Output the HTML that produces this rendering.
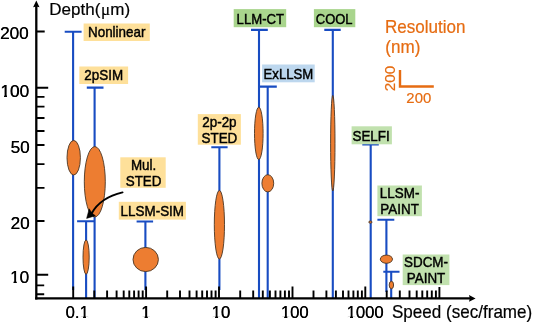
<!DOCTYPE html><html><head><meta charset="utf-8"><title>Depth vs Speed</title>
<style>html,body{margin:0;padding:0;background:#fff}svg{display:block}text{font-family:"Liberation Sans",Arial,Helvetica,sans-serif}</style></head><body>
<svg width="533" height="322" viewBox="0 0 533 322">
<rect width="533" height="322" fill="#fff"/>
<path d="M64.7 31.7H81.6M73.1 31.7V290" stroke="#184CC2" stroke-width="2.1" fill="none"/>
<path d="M86.8 87.6H103.5M94.6 87.6V298" stroke="#184CC2" stroke-width="2.1" fill="none"/>
<path d="M77.1 221.2H94.6M86.1 221.2V298" stroke="#184CC2" stroke-width="2.1" fill="none"/>
<path d="M136.6 221.5H153.1M145.4 221.5V290" stroke="#184CC2" stroke-width="2.1" fill="none"/>
<path d="M211.3 147.3H227.6M219.4 147.3V290" stroke="#184CC2" stroke-width="2.1" fill="none"/>
<path d="M251 29.9H267.8M259.0 29.9V298" stroke="#184CC2" stroke-width="2.1" fill="none"/>
<path d="M259 86.6H276.8M267.7 86.6V298" stroke="#184CC2" stroke-width="2.1" fill="none"/>
<path d="M324.3 29.9H340.7M332.8 29.9V298" stroke="#184CC2" stroke-width="2.1" fill="none"/>
<path d="M362.3 144.5H378.8M370.7 144.5V298" stroke="#184CC2" stroke-width="2.1" fill="none"/>
<path d="M377.4 219.7H394.3M386.4 219.7V292" stroke="#184CC2" stroke-width="2.1" fill="none"/>
<path d="M383.3 271.8H399.5M391.2 271.8V298" stroke="#184CC2" stroke-width="2.1" fill="none"/>
<ellipse cx="73.7" cy="157.7" rx="6.7" ry="17.3" fill="#ED7D31" stroke="#4a3624" stroke-width="0.9"/>
<ellipse cx="94.8" cy="181.8" rx="10.5" ry="35.2" fill="#ED7D31" stroke="#4a3624" stroke-width="0.9"/>
<ellipse cx="86.1" cy="257.1" rx="3.1" ry="17.2" fill="#ED7D31" stroke="#4a3624" stroke-width="0.9"/>
<ellipse cx="145.7" cy="259.5" rx="12.7" ry="12.1" fill="#ED7D31" stroke="#4a3624" stroke-width="0.9"/>
<ellipse cx="219.4" cy="224.7" rx="5.1" ry="34.3" fill="#ED7D31" stroke="#4a3624" stroke-width="0.9"/>
<ellipse cx="258.8" cy="133.4" rx="4.3" ry="26.2" fill="#ED7D31" stroke="#4a3624" stroke-width="0.9"/>
<ellipse cx="267.8" cy="183.3" rx="5.9" ry="8.6" fill="#ED7D31" stroke="#4a3624" stroke-width="0.9"/>
<ellipse cx="332.8" cy="143.2" rx="2.2" ry="47.8" fill="#ED7D31" stroke="#4a3624" stroke-width="0.9"/>
<ellipse cx="370.4" cy="222.1" rx="1.6" ry="1.1" fill="#ED7D31" stroke="#4a3624" stroke-width="0.9"/>
<ellipse cx="386.4" cy="259.2" rx="6.1" ry="4.1" fill="#ED7D31" stroke="#4a3624" stroke-width="0.9"/>
<ellipse cx="391.4" cy="285.0" rx="2.2" ry="3.7" fill="#ED7D31" stroke="#4a3624" stroke-width="0.9"/>
<path d="M36.3 5V299.59999999999997" stroke="#000" stroke-width="2.3" fill="none"/>
<path d="M35.15 298.4H471" stroke="#000" stroke-width="2.4" fill="none"/>
<path d="M36.3 0.6L39.5 7.2L36.3 6.6L33.099999999999994 7.2Z" fill="#000"/>
<path d="M475.6 298.4L469 295.09999999999997L469.8 298.4L469 301.7Z" fill="#000"/>
<path d="M36.3 31.5H44.7M36.3 87.8H48.2M36.3 96.9H44.5M36.3 106.6H44.5M36.3 118.0H44.5M36.3 131H44.5M36.3 145H44.5M36.3 164.1H44.5M36.3 187.9H44.5M36.3 221H44.5M36.3 274.8H48.2M36.3 285.4H44.2M36.3 294.3H44.2" stroke="#000" stroke-width="1.9" fill="none"/>
<path d="M73.2 298.4V286.6M94.3 298.4V290.5M107.1 298.4V290.5M116.6 298.4V290.5M123.7 298.4V290.5M129.3 298.4V290.5M134.1 298.4V290.5M138.6 298.4V290.5M142.7 298.4V290.5M146.1 298.4V286.6M167.2 298.4V290.5M180.0 298.4V290.5M189.5 298.4V290.5M196.6 298.4V290.5M202.2 298.4V290.5M207.0 298.4V290.5M211.5 298.4V290.5M215.6 298.4V290.5M219.0 298.4V286.6M240.2 298.4V290.5M253.2 298.4V290.5M262.8 298.4V290.5M269.9 298.4V290.5M275.5 298.4V290.5M280.4 298.4V290.5M284.9 298.4V290.5M289.0 298.4V290.5M292.5 298.4V286.6M313.5 298.4V290.5M326.4 298.4V290.5M335.9 298.4V290.5M343.0 298.4V290.5M348.5 298.4V290.5M353.4 298.4V290.5M357.8 298.4V290.5M361.9 298.4V290.5M365.3 298.4V286.6M386.7 298.4V290.5M399.8 298.4V290.5M409.5 298.4V290.5M416.7 298.4V290.5M422.3 298.4V290.5M427.2 298.4V290.5M431.8 298.4V290.5M435.9 298.4V290.5M439.4 298.4V286.9" stroke="#000" stroke-width="1.9" fill="none"/>
<g>
<text x="28.60" y="39.4" font-size="17.2" text-anchor="end" fill="#000">200</text>
<text x="28.95" y="39.4" font-size="17.2" text-anchor="end" fill="#000">200</text>
</g>
<clipPath id="c1"><path clip-rule="evenodd" d="M-2.70 77.00H32.00V103.00H-2.70ZM0.97 94.72H4.13V98.00H0.97ZM7.00 94.72H10.06V98.00H7.00Z"/></clipPath>
<g clip-path="url(#c1)">
<text x="29.00" y="97.0" font-size="17.2" text-anchor="end" fill="#000">100</text>
<text x="29.35" y="97.0" font-size="17.2" text-anchor="end" fill="#000">100</text>
</g>
<g>
<text x="29.50" y="153.4" font-size="17.2" text-anchor="end" fill="#000">50</text>
<text x="29.85" y="153.4" font-size="17.2" text-anchor="end" fill="#000">50</text>
</g>
<g>
<text x="29.50" y="229.4" font-size="17.2" text-anchor="end" fill="#000">20</text>
<text x="29.85" y="229.4" font-size="17.2" text-anchor="end" fill="#000">20</text>
</g>
<clipPath id="c2"><path clip-rule="evenodd" d="M6.87 263.40H32.00V289.40H6.87ZM10.54 281.12H13.69V284.40H10.54ZM16.56 281.12H19.62V284.40H16.56Z"/></clipPath>
<g clip-path="url(#c2)">
<text x="29.00" y="283.4" font-size="17.2" text-anchor="end" fill="#000">10</text>
<text x="29.35" y="283.4" font-size="17.2" text-anchor="end" fill="#000">10</text>
</g>
<clipPath id="c3"><path clip-rule="evenodd" d="M62.49 298.40H91.71V324.40H62.49ZM80.07 316.15H83.12V319.40H80.07ZM85.95 316.15H88.90V319.40H85.95Z"/></clipPath>
<g clip-path="url(#c3)">
<text x="77.10" y="318.4" font-size="16.7" text-anchor="middle" fill="#000">0.1</text>
<text x="77.45" y="318.4" font-size="16.7" text-anchor="middle" fill="#000">0.1</text>
</g>
<clipPath id="c4"><path clip-rule="evenodd" d="M138.06 298.40H153.34V324.40H138.06ZM141.71 316.15H144.76V319.40H141.71ZM147.58 316.15H150.54V319.40H147.58Z"/></clipPath>
<g clip-path="url(#c4)">
<text x="145.70" y="318.4" font-size="16.7" text-anchor="middle" fill="#000">1</text>
<text x="146.05" y="318.4" font-size="16.7" text-anchor="middle" fill="#000">1</text>
</g>
<clipPath id="c5"><path clip-rule="evenodd" d="M208.51 298.40H233.09V324.40H208.51ZM212.16 316.15H215.21V319.40H212.16ZM218.04 316.15H221.00V319.40H218.04Z"/></clipPath>
<g clip-path="url(#c5)">
<text x="220.80" y="318.4" font-size="16.7" text-anchor="middle" fill="#000">10</text>
<text x="221.15" y="318.4" font-size="16.7" text-anchor="middle" fill="#000">10</text>
</g>
<clipPath id="c6"><path clip-rule="evenodd" d="M277.67 298.40H311.53V324.40H277.67ZM281.32 316.15H284.37V319.40H281.32ZM287.19 316.15H290.15V319.40H287.19Z"/></clipPath>
<g clip-path="url(#c6)">
<text x="294.60" y="318.4" font-size="16.7" text-anchor="middle" fill="#000">100</text>
<text x="294.95" y="318.4" font-size="16.7" text-anchor="middle" fill="#000">100</text>
</g>
<clipPath id="c7"><path clip-rule="evenodd" d="M343.42 298.40H386.58V324.40H343.42ZM347.08 316.15H350.12V319.40H347.08ZM352.95 316.15H355.91V319.40H352.95Z"/></clipPath>
<g clip-path="url(#c7)">
<text x="365.00" y="318.4" font-size="16.7" text-anchor="middle" fill="#000">1000</text>
<text x="365.35" y="318.4" font-size="16.7" text-anchor="middle" fill="#000">1000</text>
</g>
<text transform="translate(392.0,317.7) scale(0.975,1)" font-size="17.5" text-anchor="start" fill="#000" stroke="#000" stroke-width="0.2">Speed (sec/frame)</text>
<text transform="translate(49.3,14.7) scale(1.0,1)" font-size="17" fill="#000" stroke="#000" stroke-width="0.2">Depth(<tspan font-family="'Liberation Serif','DejaVu Serif',serif" dx="0.6">μ</tspan><tspan dx="0.2">m)</tspan></text>
<text transform="translate(385.0,33.1) scale(0.975,1)" font-size="17.5" text-anchor="start" fill="#E66C12" stroke="#E66C12" stroke-width="0.2">Resolution</text>
<text transform="translate(385.3,53.2) scale(0.975,1)" font-size="17.5" text-anchor="start" fill="#E66C12" stroke="#E66C12" stroke-width="0.2">(nm)</text>
<text transform="translate(418.8,103.0) scale(0.975,1)" font-size="15.3" text-anchor="middle" fill="#E66C12" stroke="#E66C12" stroke-width="0.2">200</text>
<text transform="translate(394.8,78.6) rotate(-90)" font-size="15.3" text-anchor="middle" fill="#E66C12" stroke="#E66C12" stroke-width="0.2">200</text>
<path d="M400 70V86.5H433.8" stroke="#E66C12" stroke-width="2.4" fill="none"/>
<rect x="83.6" y="23.5" width="66.2" height="17.5" fill="#FEE09A"/>
<text transform="translate(116.7,36.7) scale(0.92,1)" font-size="14.6" text-anchor="middle" fill="#000" stroke="#000" stroke-width="0.45">Nonlinear</text>
<rect x="79.3" y="66.5" width="48.8" height="17.5" fill="#FEE09A"/>
<text transform="translate(103.7,79.8) scale(0.92,1)" font-size="14.6" text-anchor="middle" fill="#000" stroke="#000" stroke-width="0.45">2pSIM</text>
<rect x="120.3" y="157.3" width="45.4" height="30.5" fill="#FEE09A"/>
<text transform="translate(143.6,170.0) scale(0.92,1)" font-size="14.6" text-anchor="middle" fill="#000" stroke="#000" stroke-width="0.45">Mul.</text>
<text transform="translate(143.6,186.0) scale(0.92,1)" font-size="14.6" text-anchor="middle" fill="#000" stroke="#000" stroke-width="0.45">STED</text>
<rect x="118.8" y="201.8" width="67.1" height="17.8" fill="#FEE09A"/>
<text transform="translate(152.3,215.7) scale(0.92,1)" font-size="14.6" text-anchor="middle" fill="#000" stroke="#000" stroke-width="0.45">LLSM-SIM</text>
<rect x="197.8" y="114.1" width="43.1" height="30.6" fill="#FEE09A"/>
<text transform="translate(219.4,127.2) scale(0.92,1)" font-size="14.6" text-anchor="middle" fill="#000" stroke="#000" stroke-width="0.45">2p-2p</text>
<text transform="translate(219.4,143.2) scale(0.92,1)" font-size="14.6" text-anchor="middle" fill="#000" stroke="#000" stroke-width="0.45">STED</text>
<rect x="233.7" y="9.1" width="52.5" height="18.1" fill="#A9D58D"/>
<text transform="translate(260.3,23.7) scale(0.9,1)" font-size="14.6" text-anchor="middle" fill="#000" stroke="#000" stroke-width="0.45">LLM-CT</text>
<rect x="262.1" y="64.5" width="52.6" height="17.8" fill="#BDD7EE"/>
<text transform="translate(288.4,78.5) scale(0.9,1)" font-size="14.6" text-anchor="middle" fill="#000" stroke="#000" stroke-width="0.45">ExLLSM</text>
<rect x="313.9" y="9.1" width="41.4" height="18.1" fill="#A9D58D"/>
<text transform="translate(334.2,23.9) scale(0.89,1)" font-size="14.6" text-anchor="middle" fill="#000" stroke="#000" stroke-width="0.45">COOL</text>
<rect x="351.6" y="126.3" width="40.3" height="18.0" fill="#C1E1AE"/>
<text transform="translate(371.1,140.9) scale(0.92,1)" font-size="14.6" text-anchor="middle" fill="#000" stroke="#000" stroke-width="0.45">SELFI</text>
<rect x="377.4" y="185.5" width="44.5" height="30.7" fill="#C1E1AE"/>
<text transform="translate(399.6,198.1) scale(0.92,1)" font-size="14.6" text-anchor="middle" fill="#000" stroke="#000" stroke-width="0.45">LLSM-</text>
<text transform="translate(399.6,214.4) scale(0.92,1)" font-size="14.6" text-anchor="middle" fill="#000" stroke="#000" stroke-width="0.45">PAINT</text>
<rect x="402.7" y="254.5" width="46.7" height="30.6" fill="#C1E1AE"/>
<text transform="translate(426.0,266.8) scale(0.92,1)" font-size="14.6" text-anchor="middle" fill="#000" stroke="#000" stroke-width="0.45">SDCM-</text>
<text transform="translate(426.0,283.0) scale(0.92,1)" font-size="14.6" text-anchor="middle" fill="#000" stroke="#000" stroke-width="0.45">PAINT</text>
<path d="M122.5 192.4C109 195.5 97.5 203 91.6 213.4" stroke="#000" stroke-width="2" fill="none" stroke-linecap="round"/>
<path d="M86.6 218.4L89.2 208.8L91.9 213.0L95.4 215.8Z" fill="#000" stroke="#000" stroke-width="0.5" stroke-linejoin="round"/>
</svg></body></html>
